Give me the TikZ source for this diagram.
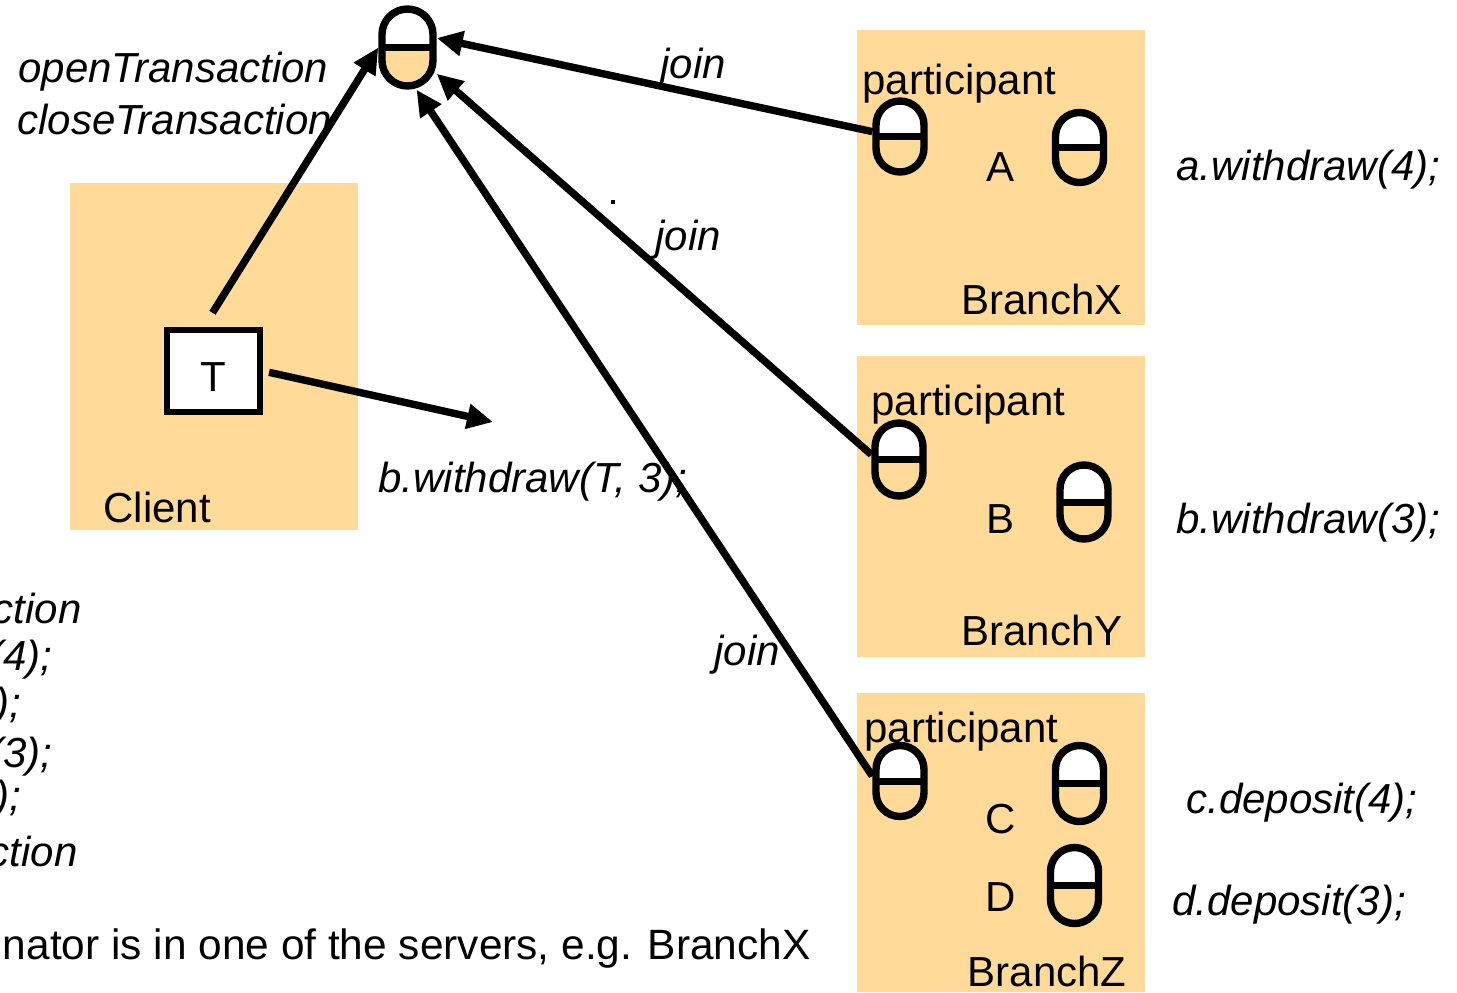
\documentclass[tikz,border=0pt]{standalone}
\usepackage{fontspec}
\setmainfont{Liberation Sans}
\usetikzlibrary{arrows.meta,calc}
\definecolor{ora}{HTML}{FFDA99}
\begin{document}
\begin{tikzpicture}[x=0.5pt,y=-0.5pt,
  lab/.style={inner sep=0pt, font=\fontsize{21}{25}\selectfont},
  itl/.style={inner sep=0pt, font=\fontsize{21}{25}\selectfont\itshape},
  capsule/.style={draw, line width=3.7pt, fill=ora, minimum width=24pt, minimum height=36.5pt,
    rounded corners=12pt, inner sep=0pt,
    path picture={\fill[white, sharp corners] (path picture bounding box.north west) rectangle (path picture bounding box.east);
      \draw[line width=3.5pt, sharp corners] (path picture bounding box.west) -- (path picture bounding box.east);}},
  conn/.style={line width=3.7pt, -{Triangle[length=13pt,width=12pt]}},
  tbox/.style={draw, line width=3.2pt, fill=white, minimum width=46.5pt, minimum height=41pt, inner sep=0pt, text height=20pt, text depth=0pt, font=\fontsize{21}{25}\selectfont}
]
\useasboundingbox (0,0) rectangle (1457,992);
% background boxes
\fill[ora] (70,183) rectangle (358,530);
\fill[ora] (857,30) rectangle (1145,325);
\fill[ora] (857,356) rectangle (1145,657);
\fill[ora] (857,693) rectangle (1145,992);
% client
\node[tbox] (T) at (213.5,371) {T};
\node[lab, anchor=base west] (client) at (103,522) {Client};
% coordinator
\node[capsule, minimum width=25.5pt, minimum height=38.5pt, rounded corners=12.75pt] (coord) at (407.5,47.5) {};
% BranchX
\node[lab, anchor=base west] (partX) at (862,94) {participant};
\node[capsule, minimum height=35.5pt] (pX) at (900,136.5) {};
\node[capsule, minimum height=35pt] (objA) at (1079.5,147.5) {};
\node[lab, anchor=base west] (labA) at (986,181) {A};
\node[lab, anchor=base east] (brX) at (1123,314) {BranchX};
% BranchY
\node[lab, anchor=base west] (partY) at (871,415) {participant};
\node[capsule] (pY) at (899,459.5) {};
\node[capsule, minimum height=37pt] (objB) at (1084,502) {};
\node[lab, anchor=base west] (labB) at (986,533) {B};
\node[lab, anchor=base east] (brY) at (1123,645) {BranchY};
% BranchZ
\node[lab, anchor=base west] (partZ) at (864,742) {participant};
\node[capsule, minimum height=35.5pt] (pZ) at (900,781) {};
\node[capsule, minimum height=38pt] (objC) at (1079.5,783.5) {};
\node[capsule, minimum height=38pt] (objD) at (1074.5,885.5) {};
\node[lab, anchor=base west] (labC) at (985,833) {C};
\node[lab, anchor=base west] (labD) at (985,911) {D};
\node[lab, anchor=base east] (brZ) at (1127,986) {BranchZ};
% operation texts
\node[itl, anchor=base west] (open) at (18,82) {openTransaction};
\node[itl, anchor=base west] (close) at (17,134) {closeTransaction};
\node[itl, anchor=base west] (bwt) at (378,492) {b.withdraw(T, 3);};
\node[itl, anchor=base west] (opA) at (1176,180) {a.withdraw(4);};
\node[itl, anchor=base west] (opB) at (1176,533) {b.withdraw(3);};
\node[itl, anchor=base west] (opC) at (1186,813) {c.deposit(4);};
\node[itl, anchor=base west] (opD) at (1172,915) {d.deposit(3);};
\node[itl, anchor=base west] (j1) at (660,78) {join};
\node[itl, anchor=base west] (j2) at (655,250) {join};
\node[itl, anchor=base west] (j3) at (714,665) {join};
% left cut-off texts
\node[itl, anchor=base east] (f1) at (82,623) {ction};
\node[itl, anchor=base east] (f2) at (53,670) {(4);};
\node[itl, anchor=base east] (f3) at (22,717) {);};
\node[itl, anchor=base east] (f4) at (53,767) {(3);};
\node[itl, anchor=base east] (f5) at (22,810) {);};
\node[itl, anchor=base east] (f6) at (78,866) {ction};
\node[lab, anchor=base east, font=\fontsize{21.2}{25}\selectfont] (note) at (811,959) {nator is in one of the servers, e.g. BranchX};
% stray dot
\fill (611,200) rectangle (615,204);
% connectors
\coordinate (bwend) at (493,422);
\draw[conn] (T.north) ++(-1,-14) -- (coord.west);
\draw[conn, shorten <=3pt] (T.east) -- (bwend);
\draw[conn] (pX.170) -- (coord.18);
\draw[conn] (pY.170) -- (coord.-42);
\draw[conn] (pZ.170) -- (coord.-78);
\end{tikzpicture}
\end{document}
